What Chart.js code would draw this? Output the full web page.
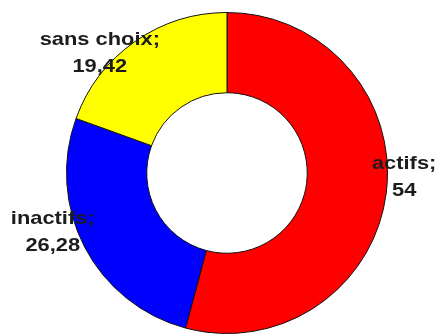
<!DOCTYPE html>
<html>
<head>
<meta charset="utf-8">
<script src="https://cdn.jsdelivr.net/npm/chart.js@4"></script>
<style>
  html, body { margin: 0; padding: 0; background: #fff; }
  canvas { display: block; }
</style>
</head>
<body>
<canvas id="donut" width="435" height="334"></canvas>
<script>
// Données du graphique
const categories = ['actifs', 'inactifs', 'sans choix'];
const values = [54, 26.28, 19.42];
const colors = ['#ff0000', '#0000ff', '#ffff00'];

// décalage des étiquettes par rapport au bord extérieur (px)
const labelShift = [[18, -17], [-32, -15], [-35, 12]];

const donutLabels = {
    id: 'donutLabels',
    afterDatasetsDraw(chart) {
        const ctx = chart.ctx;
        const meta = chart.getDatasetMeta(0);
        ctx.save();
        ctx.font = 'bold 19px "Liberation Sans", Arial, sans-serif';
        ctx.fillStyle = '#1c1c1c';
        ctx.textAlign = 'center';
        ctx.textBaseline = 'middle';
        meta.data.forEach(function (arc, i) {
            const p = arc.getProps(['x', 'y', 'startAngle', 'endAngle', 'outerRadius'], true);
            const mid = (p.startAngle + p.endAngle) / 2;
            const cx = p.x + Math.cos(mid) * p.outerRadius + labelShift[i][0];
            const cy = p.y + Math.sin(mid) * p.outerRadius + labelShift[i][1];
            const lines = [categories[i] + ';', String(values[i]).replace('.', ',')];
            lines.forEach(function (txt, k) {
                ctx.save();
                ctx.translate(cx, cy + (k - 0.5) * 27);
                ctx.scale(1.15, 1);
                ctx.fillText(txt, 0, 0);
                ctx.restore();
            });
        });
        ctx.restore();
    }
};

const config = {
    type: 'doughnut',
    data: {
        labels: categories,
        datasets: [{
            data: values,
            backgroundColor: colors,
            borderColor: '#111',
            borderWidth: 1,
            hoverOffset: 0
        }]
    },
    options: {
        responsive: false,
        animation: false,
        cutout: '50%',
        layout: {
            padding: { top: 12, bottom: 0, left: 66, right: 47 }
        },
        plugins: {
            legend: { display: false },
            tooltip: { enabled: false }
        }
    },
    plugins: [donutLabels]
};

new Chart(document.getElementById('donut').getContext('2d'), config);
</script>
</body>
</html>
